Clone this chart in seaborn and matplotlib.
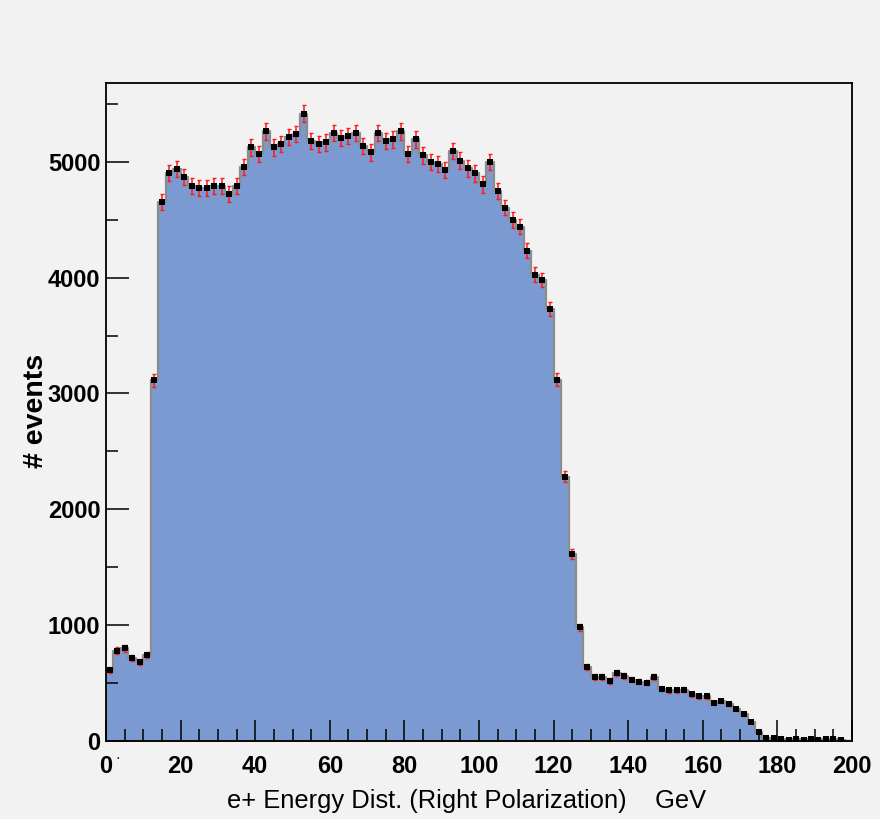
import numpy as np
import pandas as pd
import matplotlib
matplotlib.use("Agg")
import matplotlib.pyplot as plt
import seaborn as sns
from matplotlib.ticker import MultipleLocator
from matplotlib import font_manager

# ---- data (2 GeV bins from 0 to 200) ----
bin_edges = list(range(0, 202, 2))
counts = [
    610, 780, 800, 715, 680, 740, 3115, 4650, 4900, 4940,
    4870, 4790, 4775, 4775, 4787, 4787, 4721, 4790, 4957, 5124,
    5069, 5262, 5124, 5153, 5215, 5239, 5415, 5179, 5153, 5167,
    5248, 5205, 5222, 5248, 5135, 5081, 5248, 5179, 5193, 5262,
    5066, 5193, 5055, 4997, 4983, 4928, 5095, 5011, 4942, 4899,
    4804, 5000, 4747, 4605, 4496, 4441, 4231, 4024, 3981, 3731,
    3117, 2282, 1615, 980, 639, 553, 553, 518, 587, 561,
    530, 512, 504, 553, 449, 437, 437, 443, 403, 386,
    386, 331, 348, 317, 279, 230, 164, 81, 30, 28,
    15, 12, 16, 10, 14, 12, 15, 13, 11, 0,
]
x_ticks = [0, 20, 40, 60, 80, 100, 120, 140, 160, 180, 200]
y_ticks = [0, 1000, 2000, 3000, 4000, 5000]
x_title = "e+ Energy Dist. (Right Polarization)    GeV"
y_title = "# events"

edges = [float(e) for e in bin_edges]
centers = [0.5 * (a + b) for a, b in zip(edges[:-1], edges[1:])]
df = pd.DataFrame({"energy": centers, "n": [float(c) for c in counts]})
df["err"] = np.sqrt(df["n"])

BG = "#f2f2f2"
FILL = "#7b9ad2"

sns.set_theme(style="ticks")
plt.rcParams["font.family"] = ["Liberation Sans", "DejaVu Sans"]
plt.rcParams["axes.axisbelow"] = False

installed = {f.name for f in font_manager.fontManager.ttflist}
if "Liberation Sans Narrow" in installed:
    tick_family = ["Liberation Sans Narrow", "Liberation Sans", "DejaVu Sans"]
    tick_size = 21
else:
    tick_family = ["Liberation Sans", "DejaVu Sans"]
    tick_size = 17

fig = plt.figure(figsize=(8.8, 8.19), dpi=100, facecolor=BG)
ax = fig.add_axes([106 / 880, (819 - 741) / 819, 746 / 880, 658 / 819])
ax.set_facecolor(BG)
ax.set_axisbelow(False)

sns.histplot(data=df, x="energy", weights="n", bins=edges, element="step",
             fill=True, color=FILL, alpha=1.0, edgecolor="#8c8c8c",
             linewidth=1.6, ax=ax, zorder=1)

pts = df[df["n"] > 0]
ax.errorbar(pts["energy"], pts["n"], yerr=pts["err"], fmt="none",
            ecolor="#ff1a1a", elinewidth=1.1, capsize=1.5, capthick=1.0, zorder=3)
sns.scatterplot(data=pts, x="energy", y="n", marker="s", s=18, color="black",
                edgecolor="black", linewidth=0, ax=ax, zorder=4)

ax.set_xlim(0, 200)
ax.set_ylim(0, 5680)
ax.set_xticks(x_ticks)
ax.set_yticks(y_ticks)
ax.xaxis.set_minor_locator(MultipleLocator(5))
ax.yaxis.set_minor_locator(MultipleLocator(500))
ax.tick_params(axis="both", which="both", direction="in", top=False, right=False,
               color="black", width=1.1)
ax.tick_params(axis="y", which="major", length=16.5, pad=4)
ax.tick_params(axis="y", which="minor", length=8.6)
ax.tick_params(axis="x", which="major", length=15, pad=10)
ax.tick_params(axis="x", which="minor", length=8.6)
for lab in ax.get_xticklabels() + ax.get_yticklabels():
    lab.set_fontsize(tick_size)
    lab.set_fontweight("bold")
    lab.set_family(tick_family)
    lab.set_color("black")

for sp in ax.spines.values():
    sp.set_visible(True)
    sp.set_color("black")
    sp.set_linewidth(1.3)
    sp.set_zorder(5)

ax.set_xlabel(x_title, fontsize=18.4, color="black", va="center", ha="center")
ax.xaxis.set_label_coords((467 - 106) / 746, (741 - 801) / 658)
ax.set_ylabel(y_title, fontsize=20.5, fontweight="bold", color="black",
              va="center", ha="center")
ax.yaxis.set_label_coords((36 - 106) / 746, (741 - 411) / 658)

ax.text(3.2, -150, "·", fontsize=10, ha="center", va="center", color="black",
        clip_on=False)

fig.savefig("out.png", dpi=100, facecolor=BG)
